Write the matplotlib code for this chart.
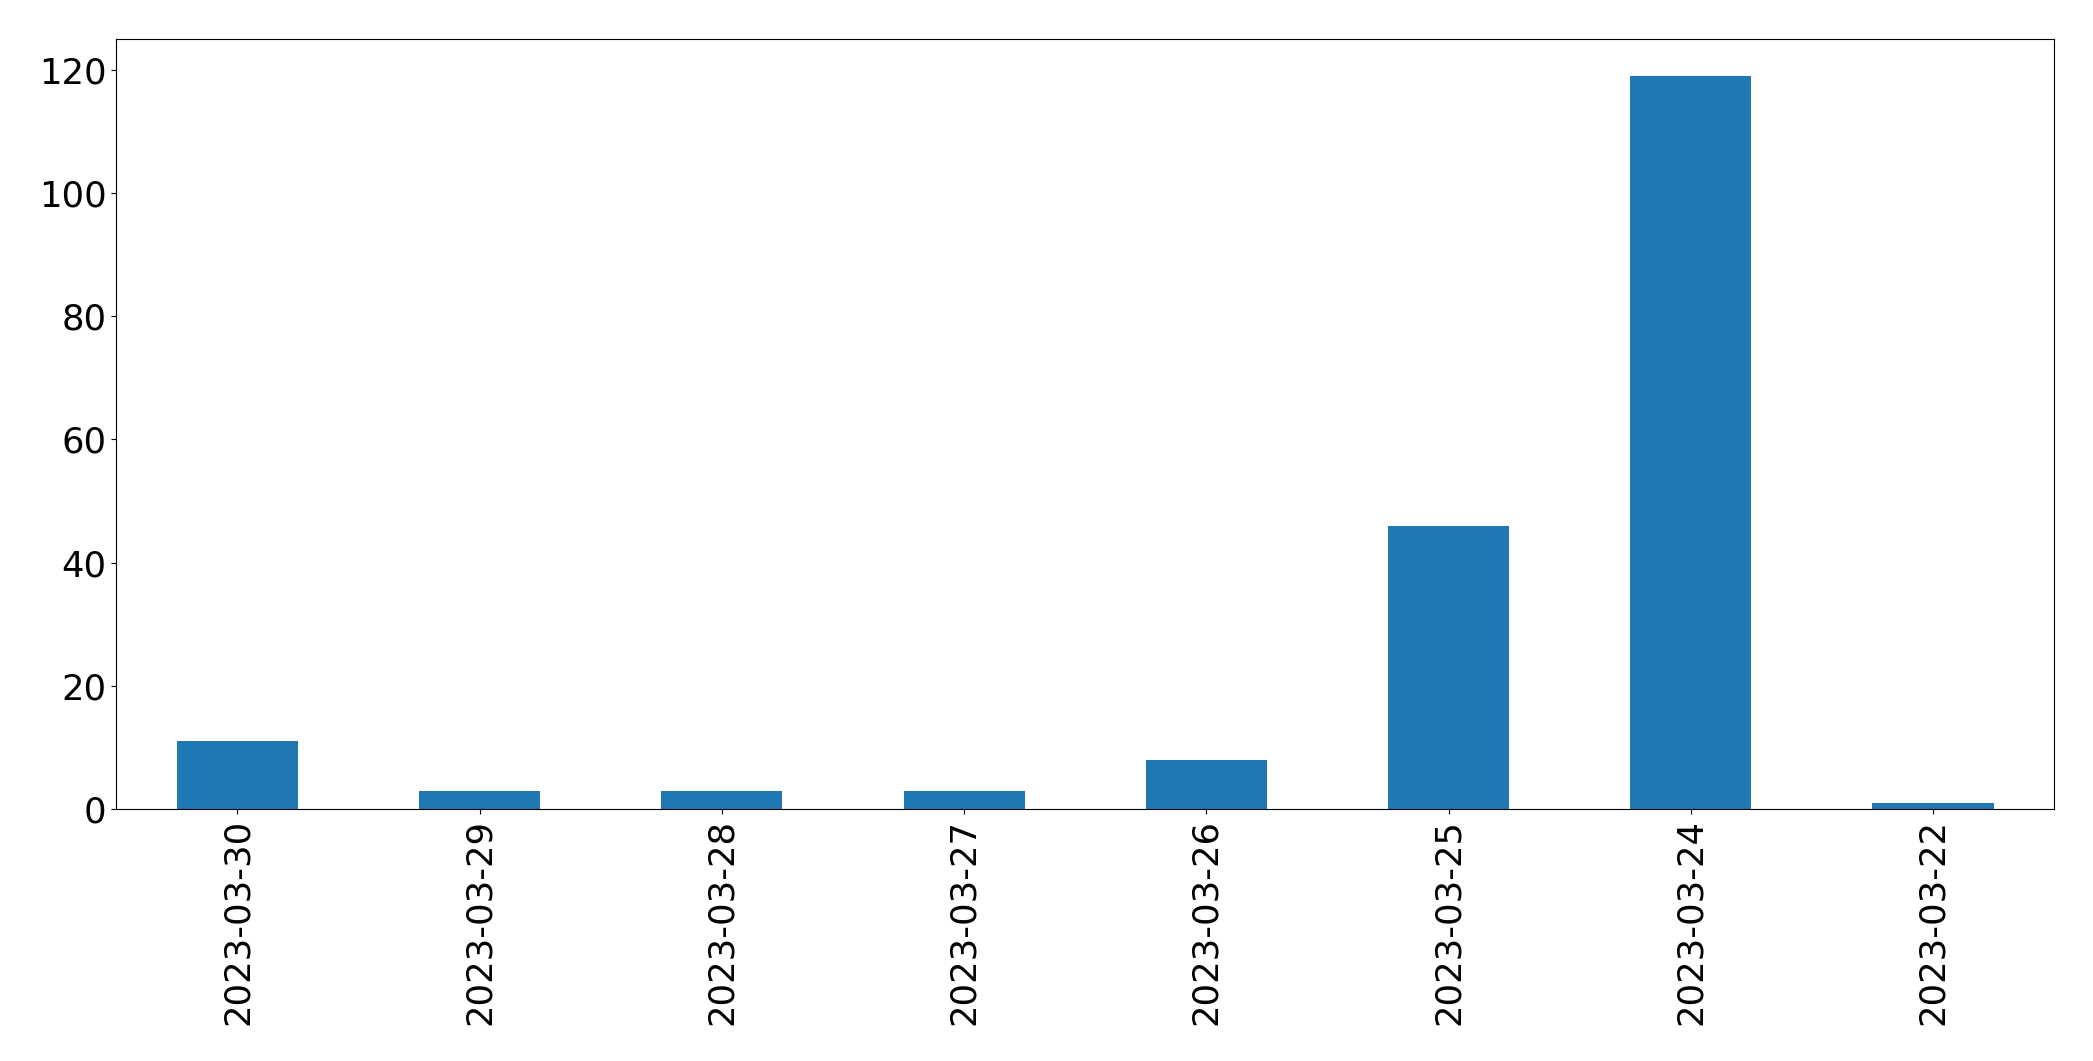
import matplotlib
matplotlib.use('Agg')
import matplotlib.pyplot as plt
import pandas as pd

dates = ['2023-03-30', '2023-03-29', '2023-03-28', '2023-03-27',
         '2023-03-26', '2023-03-25', '2023-03-24', '2023-03-22']
counts = [11, 3, 3, 3, 8, 46, 119, 1]

series = pd.Series(counts, index=dates)

fig = plt.figure(figsize=(20.93, 10.61), dpi=100)
ax = fig.add_axes([0.0556, 0.2375, 0.9814 - 0.0556, 0.963 - 0.2375])

series.plot(kind='bar', ax=ax, color='#1f77b4', width=0.5)

ax.tick_params(axis='both', labelsize=25.5)
ax.set_xlim(-0.5, len(dates) - 0.5)

fig.savefig('out.png', dpi=100)
